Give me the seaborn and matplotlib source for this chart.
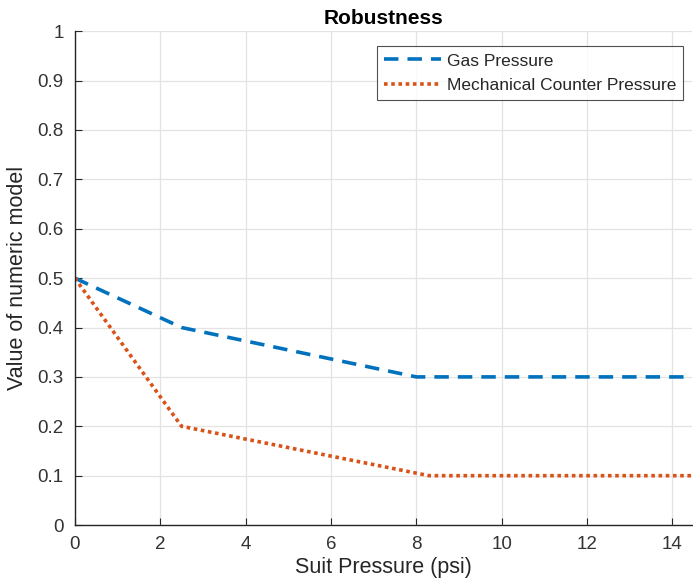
import matplotlib
matplotlib.use("Agg")
import matplotlib.pyplot as plt
import seaborn as sns
import pandas as pd

# values
gas_x = [0, 2.5, 8.0, 14.5]
gas_y = [0.5, 0.4, 0.3, 0.3]
mcp_x = [0, 2.5, 8.3, 14.5]
mcp_y = [0.5, 0.2, 0.1, 0.1]
series_names = ["Gas Pressure", "Mechanical Counter Pressure"]

df = pd.concat([
    pd.DataFrame({"psi": gas_x, "value": gas_y, "series": series_names[0]}),
    pd.DataFrame({"psi": mcp_x, "value": mcp_y, "series": series_names[1]}),
])

sns.set_style("whitegrid")
plt.rcParams["font.family"] = ["Liberation Sans", "DejaVu Sans"]

fig = plt.figure(figsize=(6.93, 5.88), dpi=100)
ax = fig.add_axes([0.108, 0.107, 0.89, 0.84])

sns.lineplot(data=df, x="psi", y="value", hue="series", style="series",
             palette=["#0072BD", "#D95319"],
             dashes={series_names[0]: (4, 2.5), series_names[1]: (1, 1)},
             linewidth=2.6, sort=False, estimator=None, ax=ax)

ax.set_xlim(0, 14.45)
ax.set_ylim(0, 1)
ax.set_xticks(range(0, 15, 2))
ax.set_yticks([i / 10 for i in range(11)])
ax.set_yticklabels(["0"] + [f"{i/10:.1f}" for i in range(1, 10)] + ["1"])
ax.grid(True, color="#e3e3e3", linewidth=0.9)
ax.tick_params(direction="in", length=5, color="#262626", labelsize=13.5,
               labelcolor="#333333", left=True, bottom=True, pad=8)
for side in ["top", "right"]:
    ax.spines[side].set_visible(False)
for side in ["left", "bottom"]:
    ax.spines[side].set_color("#262626")
    ax.spines[side].set_linewidth(1.0)

ax.set_xlabel("Suit Pressure (psi)", fontsize=15.5, color="#262626", labelpad=3)
ax.set_ylabel("Value of numeric model", fontsize=15.5, color="#262626", labelpad=7)
ax.set_title("Robustness", fontsize=15, fontweight="bold", color="black", pad=5)

leg = ax.legend(loc="upper right", bbox_to_anchor=(0.986, 0.969), fontsize=12.5,
                frameon=True, fancybox=False, handlelength=3.3,
                borderpad=0.4, labelspacing=0.55, handletextpad=0.3,
                borderaxespad=0)
leg.get_frame().set_edgecolor("#262626")
leg.get_frame().set_linewidth(0.8)

fig.savefig("out.png", dpi=100)
